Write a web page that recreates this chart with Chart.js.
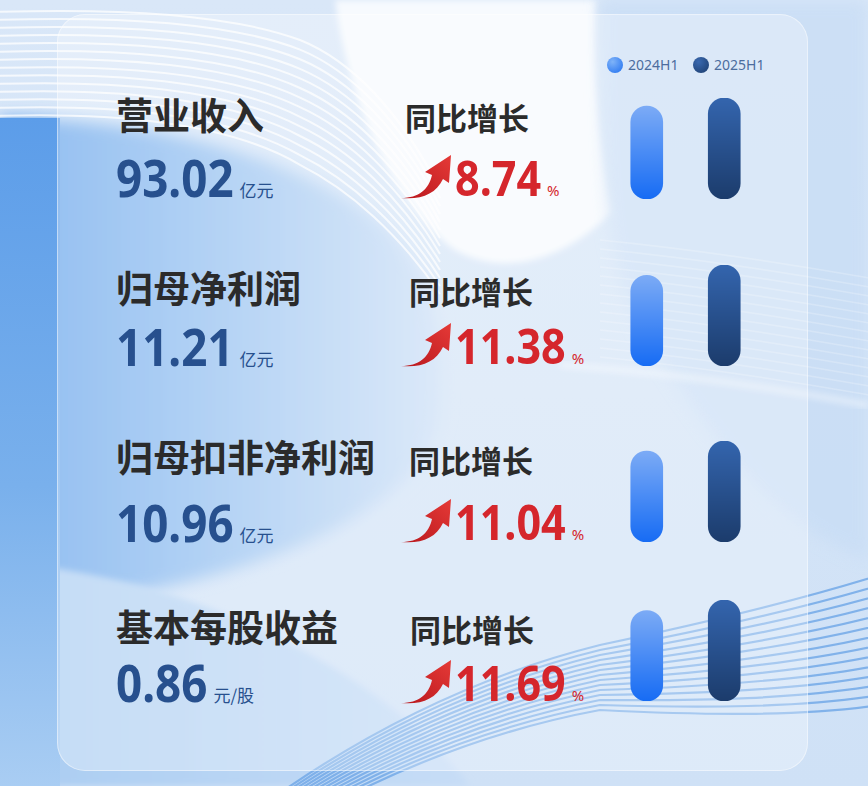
<!DOCTYPE html>
<html>
<head>
<meta charset="utf-8">
<script src="https://cdn.jsdelivr.net/npm/chart.js@4.4.1/dist/chart.umd.min.js"></script>
<style>
  html,body{margin:0;padding:0;}
  body{width:868px;height:786px;position:relative;overflow:hidden;background:#d6e7f9;font-family:"Noto Sans CJK SC","Noto Sans",sans-serif;}
  #bg{position:absolute;left:0;top:0;}
  #panel{position:absolute;left:57px;top:14px;width:751px;height:757px;border-radius:28px;background:rgba(255,255,255,0.30);box-shadow:inset 0 0 0 1px rgba(255,255,255,0.45);}
  .abs{position:absolute;white-space:nowrap;}
  .label{font-size:37px;line-height:37px;font-weight:700;color:#2b2b2b;}
  .glabel{font-size:31px;line-height:31px;font-weight:700;color:#2b2b2b;}
  .vrow{display:flex;align-items:baseline;line-height:52px;height:52px;}
  .num{display:inline-block;font-family:"Noto Sans",sans-serif;font-weight:700;font-size:52px;line-height:52px;color:#27508e;transform:scaleX(0.88);transform-origin:0 100%;}
  .unit{font-size:17px;line-height:17px;color:#27508e;margin-left:6px;}
  .gnum{display:inline-block;font-family:"Noto Sans",sans-serif;font-weight:700;font-size:49px;line-height:52px;color:#d5262c;transform:scaleX(0.88);transform-origin:0 100%;}
  .pct{font-family:"Noto Sans",sans-serif;font-size:15px;line-height:15px;color:#d5262c;margin-left:6px;}
  .legend{position:absolute;top:55px;display:flex;align-items:center;font-family:"Noto Sans",sans-serif;font-size:14px;color:#4c6d9e;}
  .dot{width:16px;height:16px;border-radius:50%;margin-right:5px;}
  canvas{position:absolute;}
</style>
</head>
<body>
<svg id="bg" width="868" height="786" viewBox="0 0 868 786"></svg>
<div id="panel"></div>
<div id="content"></div>
<script>
// ---------- data ----------
const metrics = ['营业收入', '归母净利润', '归母扣非净利润', '基本每股收益'];
const values2025 = [93.02, 11.21, 10.96, 0.86];
const values2024 = [85.54, 10.06, 9.87, 0.77];
const valueLabels = ['93.02', '11.21', '10.96', '0.86'];
const units = ['亿元', '亿元', '亿元', '元/股'];
const growthPct = ['8.74', '11.38', '11.04', '11.69'];
const growthTitle = '同比增长';
const seriesLabels = ['2024H1', '2025H1'];

// ---------- layout (positions only) ----------
const barTop = [98, 265, 441, 600];
const labelTop = [100, 273, 442, 612];
const valueBase = [197, 366, 542, 702];
const gTitleTop = [104, 278, 447, 616];
const gTitleLeft = [405, 409, 409, 410];
const gBase = [197, 365, 541, 702];

// ---------- background decoration ----------
const NS = 'http://www.w3.org/2000/svg';
const bg = document.getElementById('bg');
bg.innerHTML = `
<defs>
  <linearGradient id="gBase" x1="0" y1="0" x2="0" y2="1">
    <stop offset="0" stop-color="#d9e7f8"/><stop offset="1" stop-color="#cfe1f6"/>
  </linearGradient>
  <linearGradient id="gBlue" x1="0" y1="0" x2="1" y2="0">
    <stop offset="0" stop-color="#5e9fe9"/><stop offset="0.45" stop-color="#8fbdf0"/><stop offset="1" stop-color="#cde0f6"/>
  </linearGradient>
  <linearGradient id="gStrip" x1="0" y1="0" x2="0" y2="1">
    <stop offset="0" stop-color="#5c9de9"/><stop offset="0.55" stop-color="#79b0ec"/><stop offset="1" stop-color="#a9cdf3"/>
  </linearGradient>
  <linearGradient id="gBot" x1="0" y1="0" x2="1" y2="0">
    <stop offset="0" stop-color="#a9ccf2"/><stop offset="1" stop-color="#c7ddf6"/>
  </linearGradient>
  <filter id="blur8"><feGaussianBlur stdDeviation="8"/></filter>
  <filter id="blur3"><feGaussianBlur stdDeviation="3"/></filter>
</defs>
<rect x="0" y="0" width="868" height="786" fill="url(#gBase)"/>
<path d="M0,118 C140,118 280,150 370,215 C430,260 450,330 440,420 C420,500 300,560 150,590 L0,600 Z" fill="url(#gBlue)" filter="url(#blur8)"/>
<path d="M0,560 C120,575 200,600 260,630 C340,665 420,720 470,786 L0,786 Z" fill="url(#gBot)" filter="url(#blur3)"/>
<rect x="0" y="118" width="60" height="668" fill="url(#gStrip)"/>
<path d="M335,0 C350,110 395,205 455,250 C510,280 570,255 612,212 C600,150 592,70 596,0 Z" fill="#f7fafe" filter="url(#blur3)"/>
<path d="M600,0 L868,0 L868,560 C760,520 700,420 640,330 C610,270 600,200 600,0 Z" fill="#c8ddf5" opacity="0.75" filter="url(#blur8)"/>
<path d="M560,365 C660,372 760,385 868,405" fill="none" stroke="#ffffff" stroke-width="5" opacity="0.5" filter="url(#blur3)"/>
<g id="topLines" fill="none" stroke="#ffffff" stroke-width="2" opacity="0.75"></g>
<g id="rightLines" fill="none" stroke="#ffffff" stroke-width="1.5" opacity="0.22"></g>
<g id="botLines" fill="none" stroke="#74aae8" stroke-width="2.2" opacity="0.85"></g>
`;
const topLines = bg.querySelector('#topLines');
for (let i = 0; i < 14; i++) {
  const o = i * 8;
  const p = document.createElementNS(NS, 'path');
  p.setAttribute('d', `M-5,${12 + o} C120,${8 + o} 230,${14 + o * 1.05} 300,${40 + o * 1.2} C350,${60 + o * 1.25} 400,${110 + o * 1.2} 440,${190 + o}`);
  topLines.appendChild(p);
}
const rightLines = bg.querySelector('#rightLines');
for (let i = 0; i < 14; i++) {
  const o = i * 9;
  const p = document.createElementNS(NS, 'path');
  p.setAttribute('d', `M600,${240 + o} C700,${250 + o} 780,${262 + o} 880,${280 + o}`);
  rightLines.appendChild(p);
}
const botLines = bg.querySelector('#botLines');
for (let i = 0; i < 14; i++) {
  const p = document.createElementNS(NS, 'path');
  p.setAttribute('d', `M270,${800 + 3 * i} C390,${715 + 4 * i} 500,${670 + 4.5 * i} 600,${645 + 5 * i} C700,${624 + 7 * i} 800,${600 + 9 * i} 880,${575 + 10 * i}`);
  botLines.appendChild(p);
}

// ---------- text ----------
const content = document.getElementById('content');
function el(tag, cls, txt) { const e = document.createElement(tag); if (cls) e.className = cls; if (txt !== undefined) e.textContent = txt; return e; }

const arrowSVG = `<svg width="52" height="44" viewBox="0 0 52 44"><defs><linearGradient id="ar" x1="0" y1="1" x2="1" y2="0"><stop offset="0" stop-color="#b8171d"/><stop offset="1" stop-color="#e53a37"/></linearGradient></defs><path d="M0,43 C18,43 28,34 31,20 L24,17 L50,0 L48,28 L42,24 C35,39 20,45 0,43 Z" fill="url(#ar)"/></svg>`;

metrics.forEach((m, i) => {
  const lab = el('div', 'abs label', m);
  lab.style.left = '116px'; lab.style.top = (labelTop[i] - 4) + 'px';
  content.appendChild(lab);

  const vr = el('div', 'abs vrow');
  vr.style.left = '116px'; vr.style.top = (valueBase[i] - 46) + 'px';
  vr.appendChild(el('span', 'num', valueLabels[i]));
  vr.appendChild(el('span', 'unit', units[i]));
  content.appendChild(vr);

  const gl = el('div', 'abs glabel', growthTitle);
  gl.style.left = gTitleLeft[i] + 'px'; gl.style.top = (gTitleTop[i] - 3) + 'px';
  content.appendChild(gl);

  const ar = el('div', 'abs');
  ar.innerHTML = arrowSVG;
  ar.style.left = '401px'; ar.style.top = (gBase[i] - 42) + 'px';
  content.appendChild(ar);

  const gr = el('div', 'abs vrow');
  gr.style.left = '455px'; gr.style.top = (gBase[i] - 46) + 'px';
  gr.appendChild(el('span', 'gnum', growthPct[i]));
  gr.appendChild(el('span', 'pct', '%'));
  content.appendChild(gr);
});
// compensate the horizontal squeeze of the number glyphs
document.querySelectorAll('.num,.gnum').forEach(s => {
  const w = s.offsetWidth;
  s.style.marginRight = (-(1 - 0.88) * w) + 'px';
});

// legend
const legendColors = ['radial-gradient(circle at 35% 30%, #7fb3f8, #1f6ff0)', 'radial-gradient(circle at 35% 30%, #3a69b0, #1b3c6c)'];
const legendLeft = [607, 693];
seriesLabels.forEach((s, k) => {
  const lg = el('div', 'legend');
  lg.style.left = legendLeft[k] + 'px';
  const d = el('div', 'dot'); d.style.background = legendColors[k];
  lg.appendChild(d);
  lg.appendChild(el('span', null, s));
  content.appendChild(lg);
});

// ---------- bars (Chart.js) ----------
const barColors = [['#7cabf6', '#176cf4'], ['#3465ae', '#1c3c6c']];
metrics.forEach((m, i) => {
  const cv = document.createElement('canvas');
  cv.width = 155; cv.height = 101;
  cv.style.left = '608px'; cv.style.top = barTop[i] + 'px';
  cv.style.width = '155px'; cv.style.height = '101px';
  content.appendChild(cv);
  new Chart(cv, {
    type: 'bar',
    data: {
      labels: seriesLabels,
      datasets: [{
        label: m,
        data: [values2024[i], values2025[i]],
        backgroundColor: (c) => {
          const chart = c.chart; const area = chart.chartArea;
          if (!area || c.raw === undefined) return barColors[c.dataIndex || 0][1];
          const top = chart.scales.y.getPixelForValue(c.raw);
          const g = chart.ctx.createLinearGradient(0, top, 0, area.bottom);
          g.addColorStop(0, barColors[c.dataIndex][0]);
          g.addColorStop(1, barColors[c.dataIndex][1]);
          return g;
        },
        borderRadius: 16,
        borderSkipped: false,
        barThickness: 32
      }]
    },
    options: {
      responsive: false,
      animation: false,
      devicePixelRatio: 2,
      layout: { padding: 0 },
      plugins: { legend: { display: false }, tooltip: { enabled: false } },
      scales: {
        x: { display: false },
        y: { display: false, min: 0, max: values2025[i] }
      }
    }
  });
});
</script>
</body>
</html>
